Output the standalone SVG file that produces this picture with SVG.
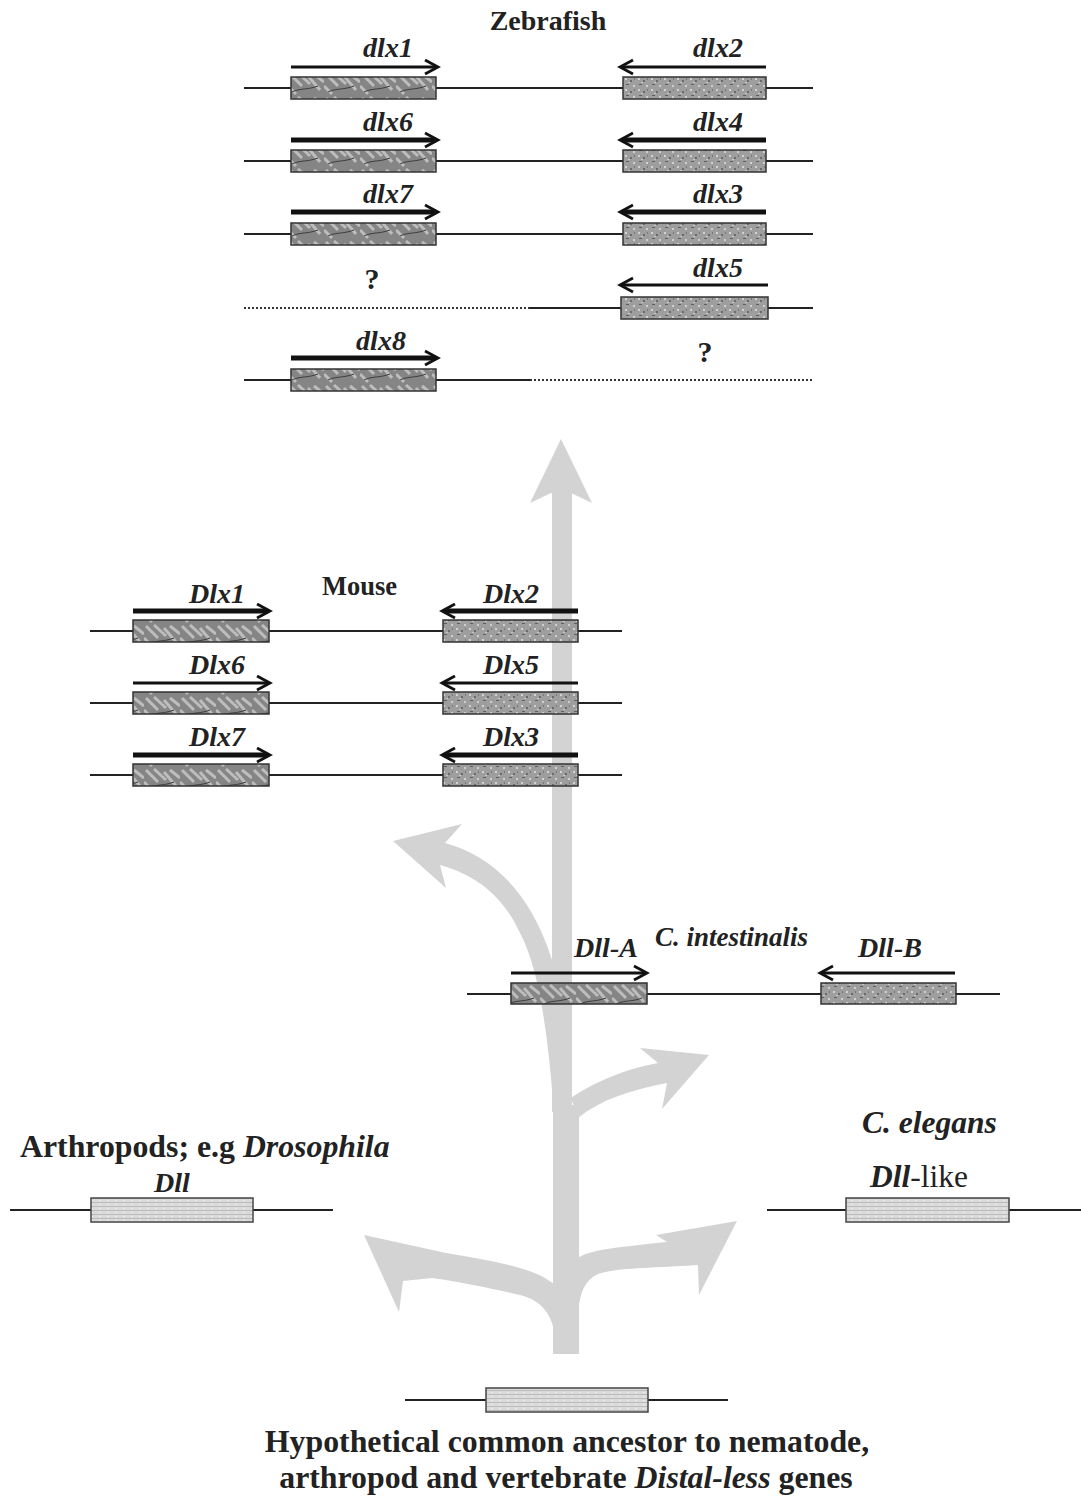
<svg xmlns="http://www.w3.org/2000/svg" width="1081" height="1501" viewBox="0 0 1081 1501">
<style>
.ln{stroke:#222;stroke-width:2;fill:none}
.dot{stroke:#333;stroke-width:2;fill:none;stroke-dasharray:2 2}
.b1{fill:url(#tex1);stroke:#333;stroke-width:1.5}
.b2{fill:url(#tex2);stroke:#333;stroke-width:1.5}
.b3{fill:url(#tex3);stroke:#444;stroke-width:1.5}
.th{stroke:#111;stroke-width:3;fill:none;marker-end:url(#ah)}
.tk{stroke:#111;stroke-width:5;fill:none;marker-end:url(#ah)}
.gl{font-family:"Liberation Serif","Times New Roman",serif;font-weight:bold;font-style:italic;font-size:28px;fill:#222;text-anchor:middle}
.tt{font-family:"Liberation Serif","Times New Roman",serif;font-weight:bold;fill:#222}
.tree{fill:#d3d3d3;stroke:none}
</style>
<defs>
<marker id="ah" markerUnits="userSpaceOnUse" markerWidth="24" markerHeight="20" viewBox="-16 -10 24 20" refX="-2" refY="0" orient="auto">
<path d="M-13,-7 L0,0 L-13,7" fill="none" stroke="#111" stroke-width="2.8"/>
</marker>
<pattern id="tex1" patternUnits="userSpaceOnUse" width="36" height="24">
<rect width="36" height="24" fill="#858585"/>
<path d="M2,2 L14,14 M10,1 L22,12 M20,4 L32,18 M0,14 L8,22 M26,2 L36,10" stroke="#bdbdbd" stroke-width="3"/>
<path d="M4,20 C12,16 20,18 30,14" stroke="#3c3c3c" stroke-width="1" fill="none"/>
</pattern>
<pattern id="tex2" patternUnits="userSpaceOnUse" width="13" height="11">
<rect width="13" height="11" fill="#9e9e9e"/>
<rect x="1" y="1" width="2" height="2" fill="#d2d2d2"/>
<rect x="6" y="3" width="2" height="2" fill="#6a6a6a"/>
<rect x="2" y="7" width="3" height="1" fill="#5e5e5e"/>
<rect x="9" y="8" width="2" height="2" fill="#cfcfcf"/>
<rect x="10" y="1" width="1" height="2" fill="#777"/>
<rect x="4" y="5" width="2" height="1" fill="#c6c6c6"/>
</pattern>
<pattern id="tex3" patternUnits="userSpaceOnUse" width="8" height="4">
<rect width="8" height="4" fill="#dadada"/>
<rect y="2" width="8" height="1" fill="#bcbcbc"/>
<rect x="3" y="0" width="2" height="1" fill="#eeeeee"/>
</pattern>
</defs>
<rect width="1081" height="1501" fill="#fff"/>

<g id="connectors">
<rect class="tree" x="552" y="490" width="20" height="622"/>
<rect class="tree" x="553" y="1105" width="26" height="249"/>
<polygon class="tree" points="561,439 592,503 571,493 551,493 530,503"/>
<path class="tree" d="M393,841 L462,824 L445,843 C490,855 530,890 552,960 L553,1100 C548,1040 540,970 520,933 C505,900 480,876 440,865 L446,888 Z"/>
<path class="tree" d="M571,1098 C590,1085 620,1070 658,1063 L640,1048 L709,1055 L662,1109 L667,1083 C630,1090 600,1100 578,1118 Z"/>
<path class="tree" d="M364,1235 L446,1253 C490,1260 525,1267 545,1278 L554,1284 L554,1330 C550,1312 540,1300 520,1295 C490,1288 450,1280 432,1278 L403,1281 L399,1312 Z"/>
<path class="tree" d="M578,1258 C590,1250 610,1248 667,1242 L656,1235 L737,1221 L699,1295 L698,1265 C650,1268 615,1268 598,1274 C585,1280 580,1292 578,1312 Z"/>
</g>

<g id="zebrafish">
<text class="tt" x="548" y="30" font-size="28" text-anchor="middle">Zebrafish</text>
<g id="zf-row1">
<line class="ln" x1="244" y1="88" x2="813" y2="88"/>
<rect class="b1" x="291" y="77" width="145" height="22"/>
<rect class="b2" x="623" y="77" width="143" height="22"/>
<line class="th" x1="291" y1="67" x2="436" y2="67"/>
<line class="th" x1="766" y1="67" x2="622" y2="67"/>
<text class="gl" x="388" y="57">dlx1</text>
<text class="gl" x="718" y="57">dlx2</text>
</g>
<g id="zf-row2">
<line class="ln" x1="244" y1="161" x2="813" y2="161"/>
<rect class="b1" x="291" y="150" width="145" height="22"/>
<rect class="b2" x="623" y="150" width="143" height="22"/>
<line class="tk" x1="291" y1="140" x2="436" y2="140"/>
<line class="tk" x1="766" y1="140" x2="622" y2="140"/>
<text class="gl" x="388" y="131">dlx6</text>
<text class="gl" x="718" y="131">dlx4</text>
</g>
<g id="zf-row3">
<line class="ln" x1="244" y1="234" x2="813" y2="234"/>
<rect class="b1" x="291" y="223" width="145" height="22"/>
<rect class="b2" x="623" y="223" width="143" height="22"/>
<line class="tk" x1="291" y1="212" x2="436" y2="212"/>
<line class="tk" x1="766" y1="212" x2="622" y2="212"/>
<text class="gl" x="388" y="203">dlx7</text>
<text class="gl" x="718" y="203">dlx3</text>
</g>
<g id="zf-row4">
<line class="dot" x1="244" y1="308" x2="530" y2="308"/>
<line class="ln" x1="530" y1="308" x2="813" y2="308"/>
<rect class="b2" x="621" y="297" width="147" height="22"/>
<line class="th" x1="768" y1="285" x2="622" y2="285"/>
<text class="gl" x="718" y="277">dlx5</text>
<text class="tt" x="372" y="289" font-size="30" text-anchor="middle">?</text>
</g>
<g id="zf-row5">
<line class="ln" x1="244" y1="380" x2="530" y2="380"/>
<line class="dot" x1="530" y1="380" x2="813" y2="380"/>
<rect class="b1" x="291" y="369" width="145" height="22"/>
<line class="tk" x1="291" y1="358" x2="436" y2="358"/>
<text class="gl" x="381" y="350">dlx8</text>
<text class="tt" x="705" y="362" font-size="30" text-anchor="middle">?</text>
</g>
</g>

<g id="mouse">
<text class="tt" x="322" y="595" font-size="26.5">Mouse</text>
<g id="m-row1">
<line class="ln" x1="90" y1="631" x2="622" y2="631"/>
<rect class="b1" x="133" y="620" width="136" height="22"/>
<rect class="b2" x="443" y="620" width="135" height="22"/>
<line class="tk" x1="133" y1="611" x2="268" y2="611"/>
<line class="tk" x1="578" y1="611" x2="444" y2="611"/>
<text class="gl" x="217" y="603">Dlx1</text>
<text class="gl" x="511" y="603">Dlx2</text>
</g>
<g id="m-row2">
<line class="ln" x1="90" y1="703" x2="622" y2="703"/>
<rect class="b1" x="133" y="692" width="136" height="22"/>
<rect class="b2" x="443" y="692" width="135" height="22"/>
<line class="th" x1="133" y1="683" x2="268" y2="683"/>
<line class="th" x1="578" y1="683" x2="444" y2="683"/>
<text class="gl" x="217" y="674">Dlx6</text>
<text class="gl" x="511" y="674">Dlx5</text>
</g>
<g id="m-row3">
<line class="ln" x1="90" y1="775" x2="622" y2="775"/>
<rect class="b1" x="133" y="764" width="136" height="22"/>
<rect class="b2" x="443" y="764" width="135" height="22"/>
<line class="tk" x1="133" y1="755" x2="268" y2="755"/>
<line class="tk" x1="578" y1="755" x2="444" y2="755"/>
<text class="gl" x="217" y="746">Dlx7</text>
<text class="gl" x="511" y="746">Dlx3</text>
</g>
</g>

<g id="ciona">
<text class="tt" x="655" y="946" font-size="27" font-style="italic">C. intestinalis</text>
<line class="ln" x1="467" y1="994" x2="1000" y2="994"/>
<rect class="b1" x="511" y="983" width="136" height="21"/>
<rect class="b2" x="821" y="983" width="135" height="21"/>
<line class="th" x1="511" y1="973" x2="645" y2="973"/>
<line class="th" x1="955" y1="973" x2="822" y2="973"/>
<text class="gl" x="606" y="957" font-size="27">Dll-A</text>
<text class="gl" x="890" y="957" font-size="27">Dll-B</text>
</g>

<g id="arthropods">
<text class="tt" x="20" y="1157" font-size="31.8">Arthropods; e.g <tspan font-style="italic">Drosophila</tspan></text>
<text class="gl" x="172" y="1192" font-size="31.5">Dll</text>
<line class="ln" x1="10" y1="1210" x2="333" y2="1210"/>
<rect class="b3" x="91" y="1198" width="162" height="24"/>
</g>

<g id="celegans">
<text class="tt" x="862" y="1133" font-size="31.5" font-style="italic">C. elegans</text>
<text class="tt" x="870" y="1187" font-size="31.5"><tspan font-style="italic">Dll</tspan><tspan font-weight="normal">-like</tspan></text>
<line class="ln" x1="767" y1="1210" x2="1081" y2="1210"/>
<rect class="b3" x="846" y="1198" width="163" height="24"/>
</g>

<g id="ancestor">
<line class="ln" x1="405" y1="1400" x2="728" y2="1400"/>
<rect class="b3" x="486" y="1388" width="162" height="24"/>
<text class="tt" x="567" y="1452" font-size="31.8" text-anchor="middle">Hypothetical common ancestor to nematode,</text>
<text class="tt" x="566" y="1488" font-size="31.8" text-anchor="middle">arthropod and vertebrate <tspan font-style="italic">Distal-less</tspan> genes</text>
</g>
</svg>
